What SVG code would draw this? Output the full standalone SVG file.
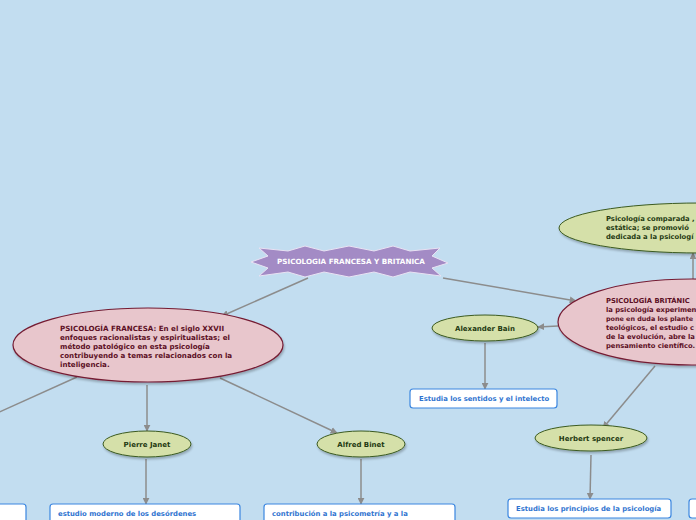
<svg xmlns="http://www.w3.org/2000/svg" width="696" height="520" viewBox="0 0 696 520">
<defs>
<marker id="ah" viewBox="0 0 10 10" refX="9" refY="5" markerWidth="7" markerHeight="7" markerUnits="userSpaceOnUse" orient="auto"><path d="M0,0 L10,5 L0,10 z" fill="#8c8c8c"/></marker>
<filter id="sh" x="-10%" y="-20%" width="130%" height="150%"><feDropShadow dx="1" dy="2" stdDeviation="1.2" flood-color="#000" flood-opacity="0.25"/></filter>
<style>
text{font-family:"DejaVu Sans",Verdana,sans-serif;font-weight:bold}
.con line{stroke:#8c8c8c;stroke-width:1.5;fill:none}
.pink{fill:#e8c6cc;stroke:#751c33;stroke-width:1.2}
.green{fill:#d5e0a9;stroke:#3b5a20;stroke-width:1}
.box{fill:#fff;stroke:#3b86e0;stroke-width:1.2}
.pt{fill:#5c0f24;font-size:7.1px}
.pr{fill:#5c0f24;font-size:6.75px}
.gt{fill:#1f3a12;font-size:7px}
.gr{fill:#1f3a12;font-size:6.8px}
.bt{fill:#2f74d0;font-size:6.85px}
</style>
</defs>
<rect width="696" height="520" fill="#c2ddf0"/>
<g class="con">
<line x1="308" y1="278" x2="222" y2="316" marker-end="url(#ah)"/>
<line x1="443" y1="278" x2="576" y2="301" marker-end="url(#ah)"/>
<line x1="77" y1="377" x2="-5" y2="414"/>
<line x1="147" y1="385" x2="147" y2="431" marker-end="url(#ah)"/>
<line x1="220" y1="378" x2="337" y2="433" marker-end="url(#ah)"/>
<line x1="146" y1="459" x2="146" y2="504" marker-end="url(#ah)"/>
<line x1="361" y1="459" x2="361" y2="504" marker-end="url(#ah)"/>
<line x1="558" y1="326" x2="538" y2="327" marker-end="url(#ah)"/>
<line x1="485" y1="343" x2="485" y2="389" marker-end="url(#ah)"/>
<line x1="655" y1="366" x2="603" y2="428" marker-end="url(#ah)"/>
<line x1="591" y1="455" x2="590" y2="499" marker-end="url(#ah)"/>
<line x1="693" y1="279" x2="693" y2="253" marker-end="url(#ah)"/>
</g>
<g id="central">
<polygon points="251,262 268,256 259,248 288,251 305,246 324,251 349,246 374,251 393,246 410,251 440,248 432,256 448,263 432,268 441,276 410,272 393,277 374,272 349,277 324,272 305,277 288,272 259,276 268,268" fill="#a38bc5" stroke="#e9e2f3" stroke-width="1"/>
<text x="351" y="264" text-anchor="middle" fill="#fff" font-size="7.2">PSICOLOGIA FRANCESA Y BRITANICA</text>
</g>
<g id="francesa">
<ellipse cx="148" cy="345" rx="135" ry="37" class="pink" filter="url(#sh)"/>
<text class="pt" x="60" y="331">PSICOLOGÍA FRANCESA: En el siglo XXVII</text>
<text class="pt" x="60" y="340">enfoques racionalistas y espiritualistas; el</text>
<text class="pt" x="60" y="349">método patológico en esta psicología</text>
<text class="pt" x="60" y="358">contribuyendo a temas relacionados con la</text>
<text class="pt" x="60" y="367">inteligencia.</text>
</g>
<g id="britanica">
<ellipse cx="692" cy="322" rx="134" ry="43" class="pink" filter="url(#sh)"/>
<text class="pr" x="606" y="303">PSICOLOGÍA BRITÁNIC</text>
<text class="pr" x="606" y="312">la psicología experimen</text>
<text class="pr" x="606" y="321" style="font-size:6.4px">pone en duda los plante</text>
<text class="pr" x="606" y="330">teológicos, el estudio c</text>
<text class="pr" x="606" y="339">de la evolución, abre la</text>
<text class="pr" x="606" y="348">pensamiento científico.</text>
</g>
<g id="comparada">
<ellipse cx="700" cy="228" rx="141" ry="25" class="green" filter="url(#sh)"/>
<text class="gr" x="606" y="221">Psicología comparada ,</text>
<text class="gr" x="606" y="230">estática;  se promovió</text>
<text class="gr" x="606" y="239">dedicada a la psicologí</text>
</g>
<g id="bain">
<ellipse cx="485" cy="328" rx="53" ry="13" class="green" filter="url(#sh)"/>
<text class="gt" x="485" y="331" text-anchor="middle">Alexander Bain</text>
</g>
<g id="janet">
<ellipse cx="147" cy="444" rx="44" ry="13" class="green" filter="url(#sh)"/>
<text class="gt" x="147" y="447" text-anchor="middle">Pierre Janet</text>
</g>
<g id="binet">
<ellipse cx="361" cy="444" rx="44" ry="13" class="green" filter="url(#sh)"/>
<text class="gt" x="361" y="447" text-anchor="middle">Alfred Binet</text>
</g>
<g id="spencer">
<ellipse cx="591" cy="438" rx="56" ry="13" class="green" filter="url(#sh)"/>
<text class="gt" x="591" y="441" text-anchor="middle">Herbert spencer</text>
</g>
<g id="box-bain">
<rect x="410" y="389" width="147" height="19" rx="3" class="box"/>
<text class="bt" x="419" y="401">Estudia los sentidos y el intelecto</text>
</g>
<g id="box-janet">
<rect x="50" y="504" width="190" height="30" rx="3" class="box"/>
<text class="bt" x="58" y="516">estudio moderno de los desórdenes</text>
</g>
<g id="box-binet">
<rect x="264" y="504" width="191" height="30" rx="3" class="box"/>
<text class="bt" x="272" y="516">contribución a la psicometría y a la</text>
</g>
<g id="box-spencer">
<rect x="508" y="499" width="163" height="19" rx="3" class="box"/>
<text class="bt" x="516" y="511">Estudia los principios de la psicología</text>
</g>
<g id="box-left">
<rect x="-20" y="504" width="46" height="30" rx="3" class="box"/>
</g>
<g id="box-right">
<rect x="689" y="499" width="40" height="19" rx="3" class="box"/>
</g>
</svg>
